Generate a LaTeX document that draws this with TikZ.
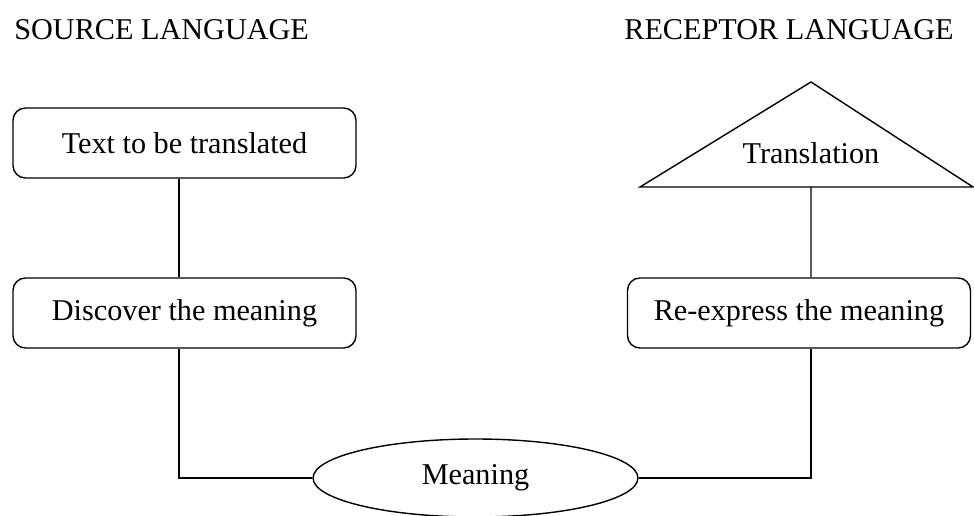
\documentclass[tikz,border=0pt]{standalone}
\usepackage{fontspec}
\setmainfont{Liberation Serif}
\usetikzlibrary{shapes.geometric}

\begin{document}
\begin{tikzpicture}[
    x=0.02cm, y=-0.02cm,
    every node/.style={font=\fontsize{17.2}{20}\selectfont},
    title/.style={anchor=west, inner sep=0pt},
    stage/.style={rectangle, rounded corners=7pt, draw, line width=0.8pt, minimum width=6.86cm, minimum height=1.4cm, align=center},
    core/.style={ellipse, draw, line width=0.8pt, minimum width=6.5cm, minimum height=1.56cm, inner sep=0pt},
    link/.style={line width=0.8pt}
]
\useasboundingbox (0,0) rectangle (974,516);

% Headings
\node[title] (src) at (14,30) {SOURCE LANGUAGE};
\node[title] (rec) at (624,30) {RECEPTOR LANGUAGE};

% Source side
\node[stage] (text) at (184.5,143) {Text to be translated};
\node[stage] (disc) at (184.5,313) {Discover the meaning};

% Meaning
\node[core] (mean) at (475.5,478) {Meaning};

% Receptor side
\node[stage] (expr) at (799,313) {Re-express the meaning};
\coordinate (apex) at (811,82);
\coordinate (tl) at (640,187);
\coordinate (tr) at (973,187);
\coordinate (base) at (811,187);
\draw[link, line join=miter] (tl) -- (apex) -- (tr) -- cycle;
\node (transl) at (811,153) {Translation};

% Connectors
\draw[link] ([xshift=-0.11cm]text.south) -- ([xshift=-0.11cm]disc.north);
\draw[link] ([xshift=-0.11cm]disc.south) |- (mean.west);
\draw[link] (mean.east) -| ([xshift=0.24cm]expr.south);
\draw[link] ([xshift=0.24cm]expr.north) -- (base);

\end{tikzpicture}
\end{document}
